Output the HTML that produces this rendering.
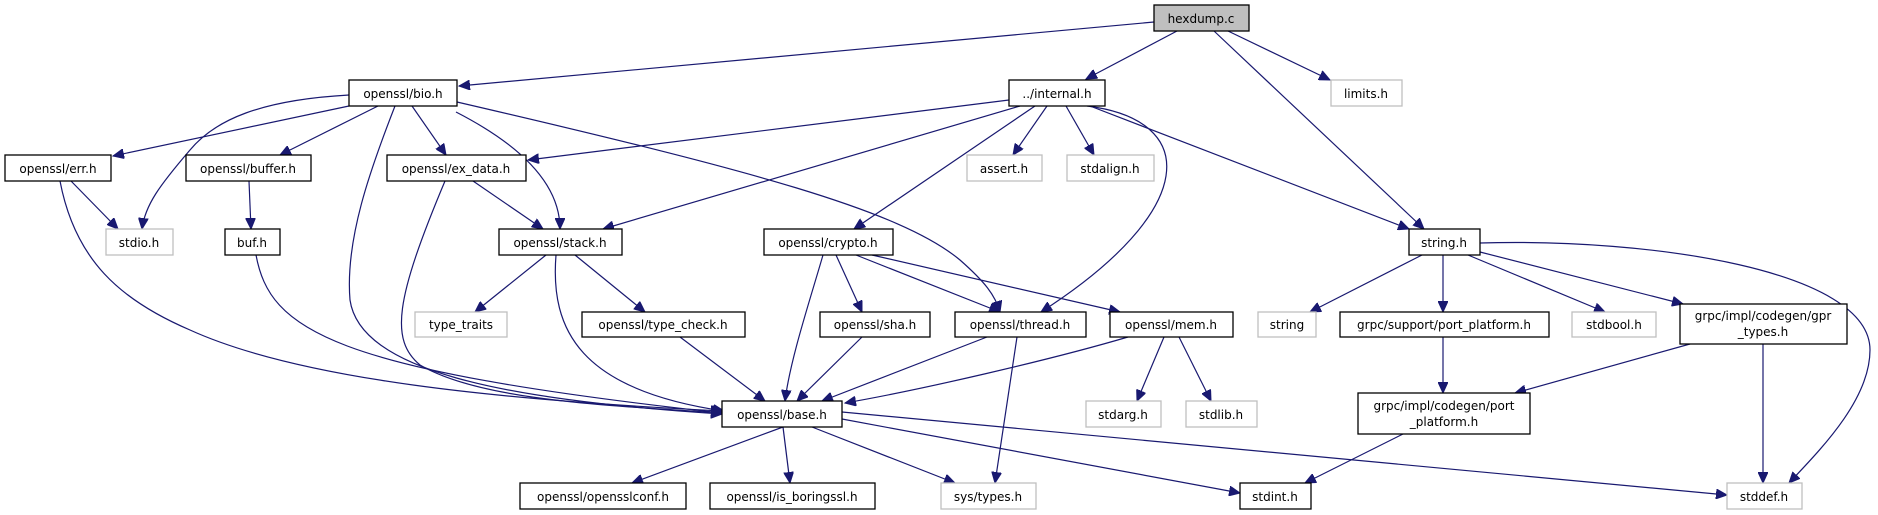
<!DOCTYPE html>
<html><head><meta charset="utf-8"><style>
html,body{margin:0;padding:0;background:#fff;}
svg{display:block}
text{font-family:"DejaVu Sans","Liberation Sans",sans-serif;font-size:12px;fill:#000;text-anchor:middle}
.e{fill:none;stroke:#191970;stroke-width:1.2}
.b{fill:#fff;stroke:#000;stroke-width:1.3}
.g{fill:#fff;stroke:#bfbfbf;stroke-width:1.3}
</style></head><body>
<svg width="1878" height="515" viewBox="0 0 1878 515" xmlns="http://www.w3.org/2000/svg">
<defs><marker id="a" markerUnits="userSpaceOnUse" markerWidth="12" markerHeight="10" refX="11" refY="5" orient="auto"><path d="M0,0 L11,5 L0,10 z" fill="#191970" stroke="#191970"/></marker></defs>
<g marker-end="url(#a)">
<path class="e" d="M1154,22 L459,86"/>
<path class="e" d="M1177,31 L1086,79"/>
<path class="e" d="M1214,31 L1424,229"/>
<path class="e" d="M1228,31 L1330,80"/>
<path class="e" d="M349,106 L113,156"/>
<path class="e" d="M378,106 L280,155"/>
<path class="e" d="M412,106 L446,155"/>
<path class="e" d="M456,112 C530,150 560,190 560,229"/>
<path class="e" d="M349,95 C260,100 215,120 190,150 C160,185 145,205 142,229"/>
<path class="e" d="M395,106 C370,170 345,240 350,300 C360,370 500,400 722,414"/>
<path class="e" d="M457,102 C750,170 900,210 960,260 C985,282 995,295 1000,312"/>
<path class="e" d="M1009,100 L528,160"/>
<path class="e" d="M1020,106 L603,229"/>
<path class="e" d="M1035,106 L854,229"/>
<path class="e" d="M1047,106 L1013,155"/>
<path class="e" d="M1066,106 L1094,155"/>
<path class="e" d="M1087,106 C1200,120 1200,210 1041,312"/>
<path class="e" d="M1090,106 L1409,229"/>
<path class="e" d="M71,181 L118,229"/>
<path class="e" d="M60,181 C75,260 120,300 190,330 C300,380 500,400 722,411"/>
<path class="e" d="M249,181 L251,229"/>
<path class="e" d="M256,255 C270,330 330,370 722,413"/>
<path class="e" d="M473,181 L543,229"/>
<path class="e" d="M445,181 C395,300 390,340 420,365 C480,400 600,405 722,413"/>
<path class="e" d="M546,255 L475,312"/>
<path class="e" d="M575,255 L645,312"/>
<path class="e" d="M556,255 C550,330 580,390 724,411"/>
<path class="e" d="M680,337 L765,401"/>
<path class="e" d="M823,255 C810,300 790,360 785,401"/>
<path class="e" d="M836,255 L862,312"/>
<path class="e" d="M856,255 L1000,312"/>
<path class="e" d="M872,255 L1120,312"/>
<path class="e" d="M862,337 L797,401"/>
<path class="e" d="M987,337 L822,401"/>
<path class="e" d="M1128,337 C1050,360 920,390 845,403"/>
<path class="e" d="M1017,337 L995,483"/>
<path class="e" d="M1164,337 L1137,401"/>
<path class="e" d="M1179,337 L1211,401"/>
<path class="e" d="M783,427 L632,483"/>
<path class="e" d="M783,427 L790,483"/>
<path class="e" d="M812,427 L955,483"/>
<path class="e" d="M842,419 L1240,493"/>
<path class="e" d="M842,412 L1727,495"/>
<path class="e" d="M1422,255 L1310,312"/>
<path class="e" d="M1443,255 L1443,312"/>
<path class="e" d="M1468,255 L1605,312"/>
<path class="e" d="M1480,252 L1683,304"/>
<path class="e" d="M1480,243 C1650,238 1870,270 1870,350 C1870,400 1820,450 1789,483"/>
<path class="e" d="M1443,337 L1443,393"/>
<path class="e" d="M1690,344 L1515,393"/>
<path class="e" d="M1763,344 L1763,483"/>
<path class="e" d="M1403,434 L1305,483"/>
</g>
<rect x="1154" y="5" width="95" height="26" fill="#bfbfbf" stroke="#000" stroke-width="1.3"/><text x="1201" y="23">hexdump.c</text>
<rect class="b" x="349" y="80" width="108" height="26"/><text x="403" y="98">openssl/bio.h</text>
<rect class="b" x="1009" y="80" width="96" height="26"/><text x="1057" y="98">../internal.h</text>
<rect class="g" x="1331" y="80" width="71" height="26"/><text x="1366" y="98">limits.h</text>
<rect class="b" x="5" y="155" width="106" height="26"/><text x="58" y="173">openssl/err.h</text>
<rect class="b" x="186" y="155" width="125" height="26"/><text x="248" y="173">openssl/buffer.h</text>
<rect class="b" x="387" y="155" width="139" height="26"/><text x="456" y="173">openssl/ex_data.h</text>
<rect class="g" x="967" y="155" width="75" height="26"/><text x="1004" y="173">assert.h</text>
<rect class="g" x="1067" y="155" width="87" height="26"/><text x="1110" y="173">stdalign.h</text>
<rect class="g" x="106" y="229" width="67" height="26"/><text x="139" y="247">stdio.h</text>
<rect class="b" x="225" y="229" width="55" height="26"/><text x="252" y="247">buf.h</text>
<rect class="b" x="499" y="229" width="123" height="26"/><text x="560" y="247">openssl/stack.h</text>
<rect class="b" x="764" y="229" width="129" height="26"/><text x="828" y="247">openssl/crypto.h</text>
<rect class="b" x="1409" y="229" width="71" height="26"/><text x="1444" y="247">string.h</text>
<rect class="g" x="415" y="312" width="92" height="25"/><text x="461" y="329">type_traits</text>
<rect class="b" x="582" y="312" width="163" height="25"/><text x="663" y="329">openssl/type_check.h</text>
<rect class="b" x="820" y="312" width="110" height="25"/><text x="875" y="329">openssl/sha.h</text>
<rect class="b" x="955" y="312" width="131" height="25"/><text x="1020" y="329">openssl/thread.h</text>
<rect class="b" x="1110" y="312" width="123" height="25"/><text x="1171" y="329">openssl/mem.h</text>
<rect class="g" x="1258" y="312" width="58" height="25"/><text x="1287" y="329">string</text>
<rect class="b" x="1340" y="312" width="209" height="25"/><text x="1444" y="329">grpc/support/port_platform.h</text>
<rect class="g" x="1572" y="312" width="84" height="25"/><text x="1614" y="329">stdbool.h</text>
<rect class="b" x="1680" y="304" width="167" height="40"/><text x="1763" y="320">grpc/impl/codegen/gpr</text><text x="1763" y="336">_types.h</text>
<rect class="b" x="722" y="401" width="120" height="26"/><text x="782" y="419">openssl/base.h</text>
<rect class="g" x="1086" y="401" width="75" height="26"/><text x="1123" y="419">stdarg.h</text>
<rect class="g" x="1186" y="401" width="71" height="26"/><text x="1221" y="419">stdlib.h</text>
<rect class="b" x="1358" y="393" width="172" height="41"/><text x="1444" y="410">grpc/impl/codegen/port</text><text x="1444" y="426">_platform.h</text>
<rect class="b" x="520" y="483" width="166" height="26"/><text x="603" y="501">openssl/opensslconf.h</text>
<rect class="b" x="710" y="483" width="165" height="26"/><text x="792" y="501">openssl/is_boringssl.h</text>
<rect class="g" x="941" y="483" width="95" height="26"/><text x="988" y="501">sys/types.h</text>
<rect class="b" x="1240" y="483" width="71" height="26"/><text x="1275" y="501">stdint.h</text>
<rect class="g" x="1727" y="483" width="75" height="26"/><text x="1764" y="501">stddef.h</text>
</svg>
</body></html>
